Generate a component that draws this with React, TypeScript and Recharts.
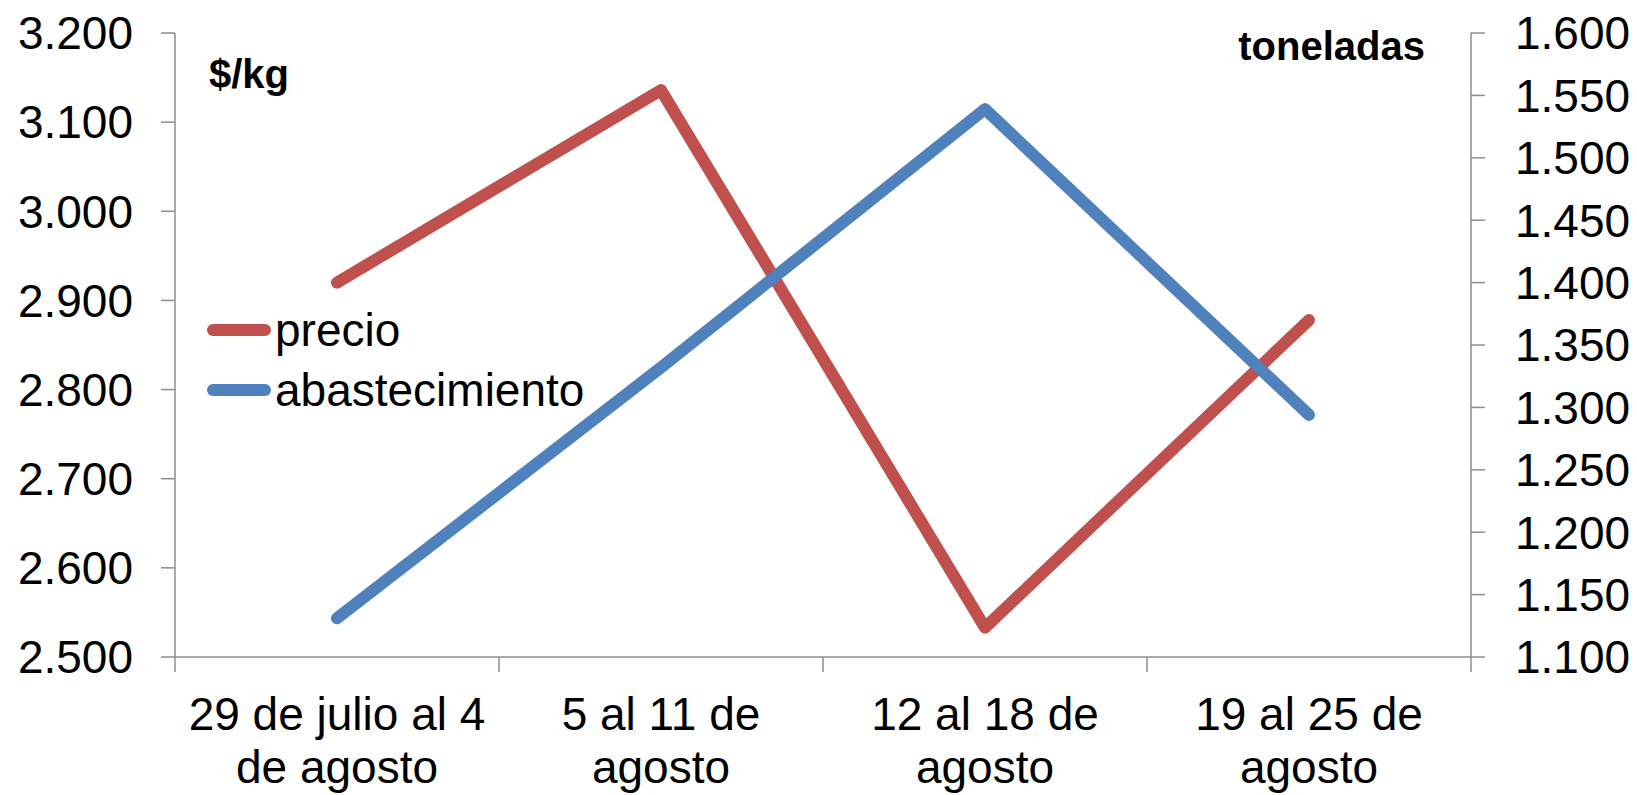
import React from 'react';
import { LineChart, Line, XAxis, YAxis, Legend } from 'recharts';

const categories = [
  '29 de julio al 4\nde agosto',
  '5 al 11 de\nagosto',
  '12 al 18 de\nagosto',
  '19 al 25 de\nagosto',
];
const precio = [2920, 3136, 2533, 2878];
const abastecimiento = [1131, 1332, 1539, 1294];
const leftTicks = [2500, 2600, 2700, 2800, 2900, 3000, 3100, 3200];
const rightTicks = [1100, 1150, 1200, 1250, 1300, 1350, 1400, 1450, 1500, 1550, 1600];
const seriesOrder = ['precio', 'abastecimiento'];

const RED = '#C0504D';
const BLUE = '#4F81BD';
const AXIS = '#8c8c8c';
const FONT = '"Liberation Sans", Arial, sans-serif';

const data = categories.map((label, i) => ({
  label,
  precio: precio[i],
  abastecimiento: abastecimiento[i],
}));

// 3200 -> "3.200"
const fmt = (v: number) => `${Math.floor(v / 1000)}.${String(v % 1000).padStart(3, '0')}`;

// label centred in the band, tick marks on the band edges (Excel style)
const XTick = ({ x, y, payload, index, visibleTicksCount }: any) => {
  const lines = String(payload.value).split('\n');
  const half = payload.offset || 162;
  const isLast = index === visibleTicksCount - 1;
  return (
    <g>
      <line x1={x - half} y1={y} x2={x - half} y2={y + 15} stroke={AXIS} strokeWidth={1.5} />
      {isLast && <line x1={x + half} y1={y} x2={x + half} y2={y + 15} stroke={AXIS} strokeWidth={1.5} />}
      <text x={x} y={y + 73} textAnchor="middle" fontSize={46} fill="#000" fontFamily={FONT}>
        {lines.map((l, i) => (
          <tspan key={i} x={x} dy={i === 0 ? 0 : 53}>{l}</tspan>
        ))}
      </text>
    </g>
  );
};

const renderLegend = (props: any) => {
  const payload = [...(props.payload || [])].sort(
    (a: any, b: any) => seriesOrder.indexOf(a.value) - seriesOrder.indexOf(b.value)
  );
  return (
    <div style={{ fontFamily: FONT, fontSize: 46, color: '#000' }}>
      {payload.map((entry: any) => (
        <div key={entry.value} style={{ display: 'flex', alignItems: 'center', height: 60 }}>
          <svg width={66} height={20} style={{ marginRight: 4 }}>
            <line x1={8} y1={10} x2={60} y2={10} stroke={entry.color} strokeWidth={12} strokeLinecap="round" />
          </svg>
          <span style={{ lineHeight: '60px' }}>{entry.value}</span>
        </div>
      ))}
    </div>
  );
};

export default function App() {
  return (
    <div style={{ position: 'absolute', left: 0, top: 0, width: 1637, height: 795, background: '#fff' }}>
      <LineChart
        width={1637}
        height={795}
        data={data}
        margin={{ top: 33, right: 0, bottom: 0, left: 0 }}
      >
        <XAxis
          dataKey="label"
          scale="band"
          height={138}
          tick={<XTick />}
          tickLine={false}
          tickSize={0}
          tickMargin={0}
          axisLine={{ stroke: AXIS, strokeWidth: 1.5 }}
          interval={0}
        />
        <YAxis
          yAxisId="left"
          width={175}
          domain={[2500, 3200]}
          ticks={leftTicks}
          tickFormatter={fmt}
          tickSize={14}
          tickMargin={28}
          axisLine={{ stroke: AXIS, strokeWidth: 1.5 }}
          tickLine={{ stroke: AXIS, strokeWidth: 1.5 }}
          tick={{ fill: '#000', fontSize: 46, fontFamily: FONT }}
          interval={0}
        />
        <YAxis
          yAxisId="right"
          orientation="right"
          width={166}
          domain={[1100, 1600]}
          ticks={rightTicks}
          tickFormatter={fmt}
          tickSize={14}
          tickMargin={30}
          axisLine={{ stroke: AXIS, strokeWidth: 1.5 }}
          tickLine={{ stroke: AXIS, strokeWidth: 1.5 }}
          tick={{ fill: '#000', fontSize: 46, fontFamily: FONT, textAnchor: 'start' }}
          interval={0}
        />
        <Legend
          layout="horizontal"
          align="center"
          verticalAlign="middle"
          content={renderLegend}
          wrapperStyle={{ left: 205, top: 300, width: 'auto' }}
        />
        <Line
          yAxisId="left"
          dataKey="precio"
          name="precio"
          stroke={RED}
          strokeWidth={12}
          strokeLinecap="round"
          strokeLinejoin="round"
          dot={false}
          isAnimationActive={false}
        />
        <Line
          yAxisId="right"
          dataKey="abastecimiento"
          name="abastecimiento"
          stroke={BLUE}
          strokeWidth={12}
          strokeLinecap="round"
          strokeLinejoin="round"
          dot={false}
          isAnimationActive={false}
        />
      </LineChart>
      <svg width={1637} height={795} style={{ position: 'absolute', left: 0, top: 0, pointerEvents: 'none' }}>
        <text x={209} y={88} fontFamily={FONT} fontSize={40} fontWeight="bold" fill="#000">$/kg</text>
        <text x={1425} y={60} fontFamily={FONT} fontSize={40} fontWeight="bold" fill="#000" textAnchor="end">toneladas</text>
      </svg>
    </div>
  );
}
